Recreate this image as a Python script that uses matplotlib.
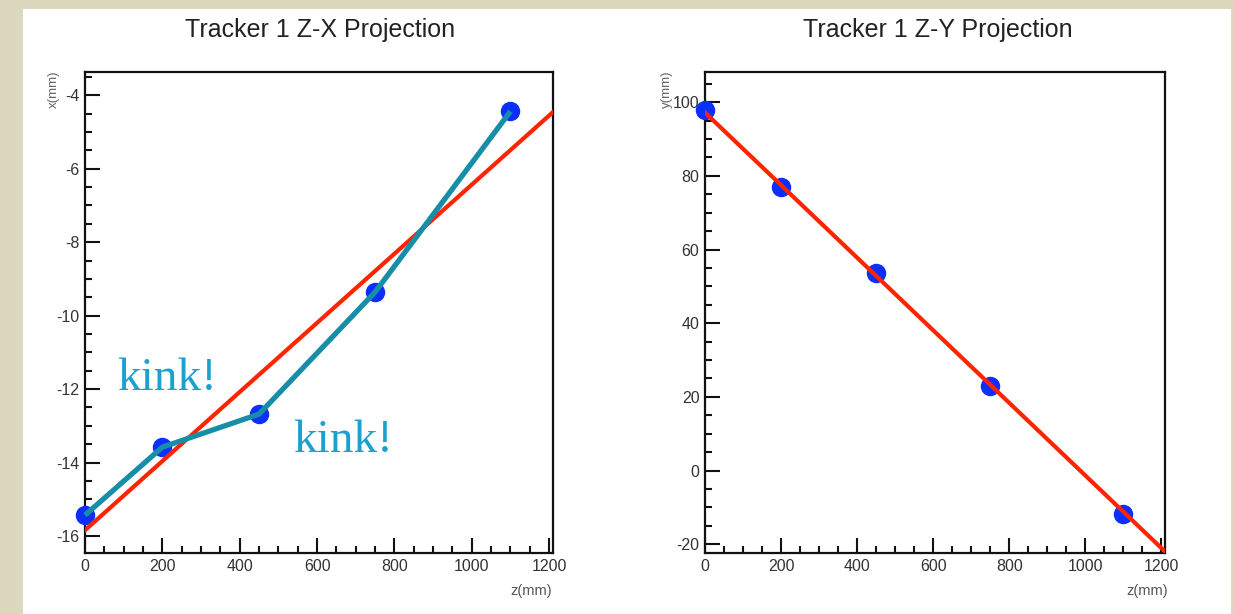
import matplotlib
matplotlib.use("Agg")
import matplotlib.pyplot as plt
from matplotlib.patches import Rectangle
from matplotlib.ticker import MultipleLocator

# Hit positions along the beam axis (mm) and measured coordinates
z_hits = [0, 200, 450, 750, 1100]
x_hits = [-15.43, -13.58, -12.68, -9.36, -4.44]
y_hits = [97.8, 77.1, 53.5, 23.0, -11.8]

# Straight-line track fit, evaluated at the ends of the z range
fit_z = [0, 1210]
fit_x = [-15.84, -4.46]
fit_y = [97.2, -22.0]

titles = ["Tracker 1 Z-X Projection", "Tracker 1 Z-Y Projection"]
ylabels = ["x(mm)", "y(mm)"]
kink_label = "kink!"

plt.rcParams["axes.unicode_minus"] = False

W, H = 1234, 614
fig = plt.figure(figsize=(W / 100, H / 100), dpi=100)
fig.patch.set_facecolor("#dcd8be")
fig.patches.append(Rectangle((23 / W, 0), (1231 - 23) / W, (H - 9) / H,
                             transform=fig.transFigure, facecolor="white",
                             edgecolor="none", zorder=-10))

sans = "Liberation Sans"
serif = "Liberation Serif"
RED = "#ff2400"
BLUE = "#0a2fff"
TEAL = "#178ea8"
KINK = "#1aa1cf"


def px_axes(x0, x1, y0, y1):
    return fig.add_axes([x0 / W, (H - y1) / H, (x1 - x0) / W, (y1 - y0) / H])


def style(ax, ymaj, ymin):
    ax.set_facecolor("white")
    ax.xaxis.set_major_locator(MultipleLocator(200))
    ax.xaxis.set_minor_locator(MultipleLocator(50))
    ax.yaxis.set_major_locator(MultipleLocator(ymaj))
    ax.yaxis.set_minor_locator(MultipleLocator(ymin))
    ax.tick_params(which="both", direction="in", top=False, right=False,
                   width=1.5, colors="#111111", labelcolor="#333333")
    ax.tick_params(which="major", length=10.5, labelsize=11.5, pad=4)
    ax.tick_params(which="minor", length=5)
    for lab in ax.get_xticklabels() + ax.get_yticklabels():
        lab.set_family(sans)
    for s in ax.spines.values():
        s.set_linewidth(1.6)
        s.set_color("#111111")


# Z-X projection
ax1 = px_axes(85, 553, 72, 553)
ax1.set_xlim(0, 1210)
ax1.set_ylim(-16.46, -3.37)
style(ax1, 2, 0.5)
ax1.plot(z_hits, x_hits, "o", ms=13, color=BLUE, zorder=3, clip_on=False)
ax1.plot(fit_z, fit_x, color=RED, lw=3, zorder=3.5)
ax1.plot(z_hits, x_hits, color=TEAL, lw=3.8, zorder=4,
         solid_capstyle="butt", clip_on=False)
ax1.text(83, -12.03, kink_label, family=serif, size=34, color=KINK,
         ha="left", va="baseline", zorder=5)
ax1.text(539, -13.71, kink_label, family=serif, size=34, color=KINK,
         ha="left", va="baseline", zorder=5)

# Z-Y projection
ax2 = px_axes(705, 1165, 72, 553)
ax2.set_xlim(0, 1210)
ax2.set_ylim(-22.4, 108.2)
style(ax2, 20, 5)
ax2.plot(z_hits, y_hits, "o", ms=13, color=BLUE, zorder=3, clip_on=False)
ax2.plot(fit_z, fit_y, color=RED, lw=3, zorder=3.5)

# Titles and axis titles
fig.text(320 / W, (H - 30) / H, titles[0], family=sans, size=18,
         color="#222222", ha="center", va="center")
fig.text(938 / W, (H - 30) / H, titles[1], family=sans, size=18,
         color="#222222", ha="center", va="center")
fig.text(54 / W, (H - 70) / H, ylabels[0], family=sans, size=9.5,
         color="#666666", rotation=90, ha="center", va="top")
fig.text(667 / W, (H - 70) / H, ylabels[1], family=sans, size=9.5,
         color="#666666", rotation=90, ha="center", va="top")
fig.text(552 / W, (H - 591) / H, "z(mm)", family=sans, size=10.5,
         color="#555555", ha="right", va="center")
fig.text(1168 / W, (H - 591) / H, "z(mm)", family=sans, size=10.5,
         color="#555555", ha="right", va="center")

fig.savefig("out.png", dpi=100, facecolor=fig.get_facecolor())
